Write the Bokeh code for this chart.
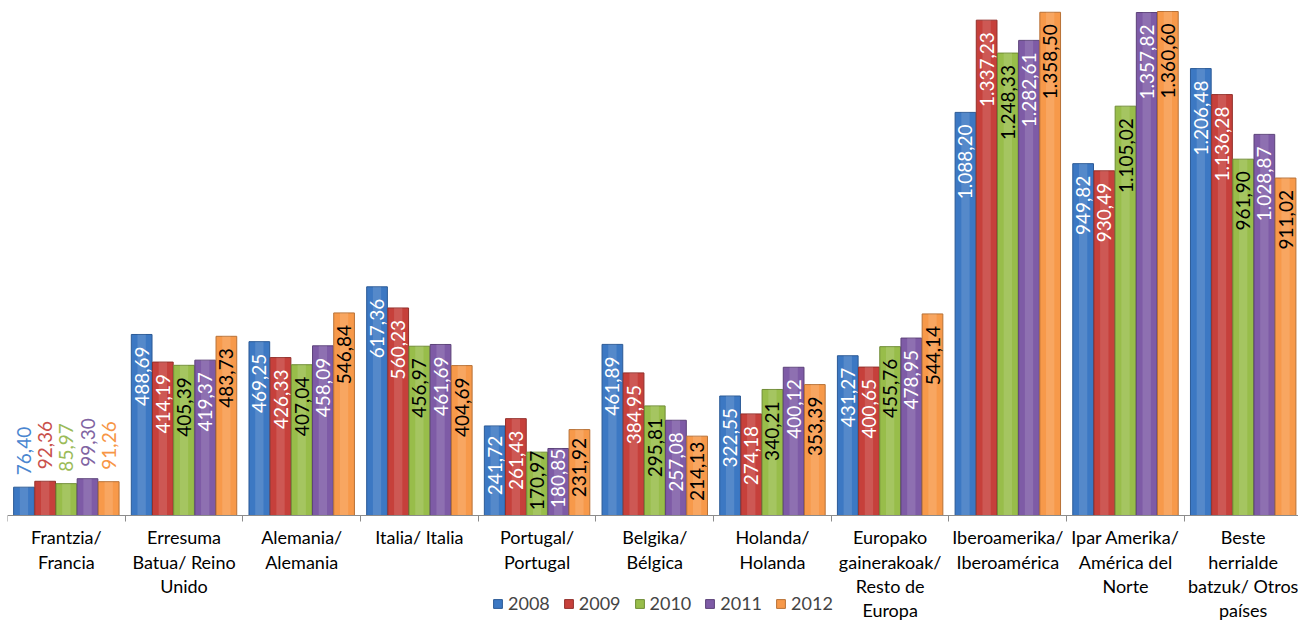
import math
from bokeh.plotting import figure
from bokeh.models import ColumnDataSource, Range1d, FixedTicker, Legend, LegendItem
from bokeh.core.properties import value
from bokeh.embed import file_html
from bokeh.resources import INLINE

categories = [
    "Frantzia/\nFrancia",
    "Erresuma\nBatua/ Reino\nUnido",
    "Alemania/\nAlemania",
    "Italia/ Italia",
    "Portugal/\nPortugal",
    "Belgika/\nBélgica",
    "Holanda/\nHolanda",
    "Europako\ngainerakoak/\nResto de\nEuropa",
    "Iberoamerika/\nIberoamérica",
    "Ipar Amerika/\nAmérica del\nNorte",
    "Beste\nherrialde\nbatzuk/ Otros\npaíses",
]
years = ["2008", "2009", "2010", "2011", "2012"]
v2008 = [76.40, 488.69, 469.25, 617.36, 241.72, 461.89, 322.55, 431.27, 1088.20, 949.82, 1206.48]
v2009 = [92.36, 414.19, 426.33, 560.23, 261.43, 384.95, 274.18, 400.65, 1337.23, 930.49, 1136.28]
v2010 = [85.97, 405.39, 407.04, 456.97, 170.97, 295.81, 340.21, 455.76, 1248.33, 1105.02, 961.90]
v2011 = [99.30, 419.37, 458.09, 461.69, 180.85, 257.08, 400.12, 478.95, 1282.61, 1357.82, 1028.87]
v2012 = [91.26, 483.73, 546.84, 404.69, 231.92, 214.13, 353.39, 544.14, 1358.50, 1360.60, 911.02]
series = [v2008, v2009, v2010, v2011, v2012]

colors = ["#3C78C3", "#C6403B", "#98BD4A", "#7E5BA6", "#F7994A"]
edge_colors = ["#2B5A96", "#93302C", "#6F8C35", "#5C4279", "#B87136"]
label_out_colors = ["#4A86D0", "#C9504B", "#9BBB59", "#8064A2", "#F79646"]
inside_text = ["white", "white", "black", "white", "black"]

FONT = "Lato"
FS_BAR = "19px"
FS_CAT = "18px"
FS_LEG = "18px"


def fmt(v):
    s = f"{v:,.2f}"
    return s.replace(",", "#").replace(".", ",").replace("#", ".")


def inside_offset(v):
    # short bars: the label is pushed up towards the bar end so it stays inside
    return max(-3.0, min(12.0, (v - 180.0) * 0.16))


p = figure(width=1298, height=620, output_backend="svg", toolbar_location=None,
           x_range=Range1d(0, 10.97), y_range=Range1d(-283.5, 1390.3),
           min_border_left=7, min_border_right=0, min_border_top=0, min_border_bottom=0)
p.outline_line_color = None
p.xgrid.visible = False
p.ygrid.visible = False
p.yaxis.visible = False
p.background_fill_color = "white"

bar_w = 0.176
offsets = [-0.36, -0.18, 0.0, 0.18, 0.36]
legend_items = []
n = len(categories)
for k, (yr, vals) in enumerate(zip(years, series)):
    xs = [i + 0.5 + offsets[k] for i in range(n)]
    labels = [fmt(v) for v in vals]
    src = ColumnDataSource(dict(x=xs, top=vals, label=labels))
    r = p.vbar(x="x", top="top", bottom=0, width=bar_w, source=src, fill_color=colors[k],
               line_color=edge_colors[k], line_width=1)
    # subtle highlight for a glossy look
    p.vbar(x="x", top="top", bottom=0, width=bar_w * 0.4, source=src, fill_color="white",
           fill_alpha=0.13, line_color=None)
    ins = [j for j, v in enumerate(vals) if v > 150]
    outs = [j for j, v in enumerate(vals) if v <= 150]
    in_src = ColumnDataSource(dict(x=[xs[j] for j in ins], y=[vals[j] for j in ins],
                                   label=[labels[j] for j in ins],
                                   yo=[inside_offset(vals[j]) for j in ins]))
    out_src = ColumnDataSource(dict(x=[xs[j] for j in outs], y=[vals[j] for j in outs],
                                    label=[labels[j] for j in outs]))
    p.text(x="x", y="y", text="label", source=in_src, angle=math.pi / 2,
           text_align="right", text_baseline="middle", y_offset="yo",
           text_color=inside_text[k], text_font=value(FONT), text_font_size=FS_BAR)
    p.text(x="x", y="y", text="label", source=out_src, angle=math.pi / 2,
           text_align="left", text_baseline="middle", y_offset=-12,
           text_color=label_out_colors[k], text_font=value(FONT), text_font_size=FS_BAR)
    legend_items.append(LegendItem(label=yr, renderers=[r]))

ax = p.xaxis[0]
ax.fixed_location = 0
ax.ticker = FixedTicker(ticks=[i + 0.5 for i in range(n)], minor_ticks=list(range(n + 1)))
ax.major_label_overrides = {i + 0.5: categories[i] for i in range(n)}
ax.axis_line_color = "#8C8C8C"
ax.major_tick_line_color = None
ax.minor_tick_line_color = "#8C8C8C"
ax.minor_tick_out = 6
ax.minor_tick_in = 0
ax.major_label_standoff = 5
ax.major_label_text_font = FONT
ax.major_label_text_font_size = FS_CAT
ax.major_label_text_color = "black"
ax.major_label_text_line_height = 1.1

legend = Legend(items=legend_items, orientation="horizontal", location=(485, 6))
legend.border_line_color = None
legend.background_fill_alpha = 0
legend.padding = 0
legend.margin = 0
legend.glyph_width = 11
legend.glyph_height = 11
legend.label_standoff = 5
legend.spacing = 13
legend.label_text_font = FONT
legend.label_text_font_size = FS_LEG
legend.label_height = 16
p.add_layout(legend, "center")

open("out.html", "w").write(file_html(p, INLINE))
